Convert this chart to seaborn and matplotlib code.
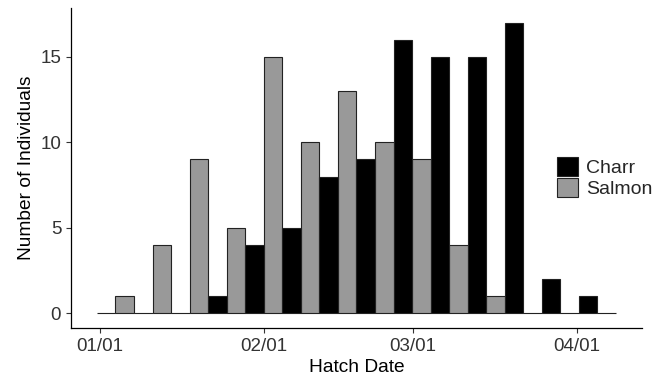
import numpy as np
import pandas as pd
import seaborn as sns
import matplotlib.dates as mdates
from matplotlib import pyplot as plt
from matplotlib.patches import Patch

# weekly hatch counts, bins start just before 1 Jan
bin_start = "2016-12-31 10:00"
bin_days = 7
charr_counts = [0, 0, 0, 1, 4, 5, 8, 9, 16, 15, 15, 17, 2, 1]
salmon_counts = [1, 4, 9, 5, 15, 10, 13, 10, 9, 4, 1, 0, 0, 0]
species = ["Charr", "Salmon"]
colors = {"Charr": "#000000", "Salmon": "#999999"}

n_bins = len(charr_counts)
start = mdates.date2num(pd.Timestamp(bin_start))
edges = start + bin_days * np.arange(n_bins + 1)
mids = (edges[:-1] + edges[1:]) / 2

df = pd.DataFrame({
    "Hatch Date": np.concatenate([mids, mids]),
    "Species": [species[0]] * n_bins + [species[1]] * n_bins,
    "Count": charr_counts + salmon_counts,
})

sns.set_theme(style="ticks")
plt.rcParams["font.family"] = ["Liberation Sans", "DejaVu Sans"]

fig = plt.figure(figsize=(6.67, 3.76), dpi=100)
ax = fig.add_axes([0.1064, 0.1277, 0.8561, 0.8511])

sns.histplot(
    data=df, x="Hatch Date", weights="Count", hue="Species", hue_order=species,
    bins=list(edges), multiple="dodge", shrink=1, palette=colors, alpha=1,
    edgecolor="#222222", linewidth=0.8, legend=False, ax=ax,
)

span = edges[-1] - edges[0]
ax.set_xlim(edges[0] - 0.05 * span, edges[-1] + 0.05 * span)
ax.set_ylim(-0.85, 17.85)
ax.set_yticks([0, 5, 10, 15])
ax.xaxis.set_major_locator(mdates.MonthLocator())
ax.xaxis.set_major_formatter(mdates.DateFormatter("%m/%d"))

ax.set_xlabel("Hatch Date", fontsize=13.8, color="black", labelpad=3)
ax.set_ylabel("Number of Individuals", fontsize=13.8, color="black", labelpad=4)
ax.tick_params(axis="both", labelsize=13.5, labelcolor="#333333", color="#333333",
               length=3.5, width=0.8)
for side in ["left", "bottom"]:
    ax.spines[side].set_color("black")
    ax.spines[side].set_linewidth(0.9)
sns.despine(ax=ax)

handles = [Patch(facecolor=colors[s], edgecolor="#222222", linewidth=0.8) for s in species]
fig.legend(handles, species, loc="center left", bbox_to_anchor=(0.835, 0.527),
           frameon=False, fontsize=14, handlelength=1.1, handleheight=1.1,
           handletextpad=0.4, labelspacing=0.05, borderpad=0, borderaxespad=0)

fig.savefig("out.png", dpi=100)
